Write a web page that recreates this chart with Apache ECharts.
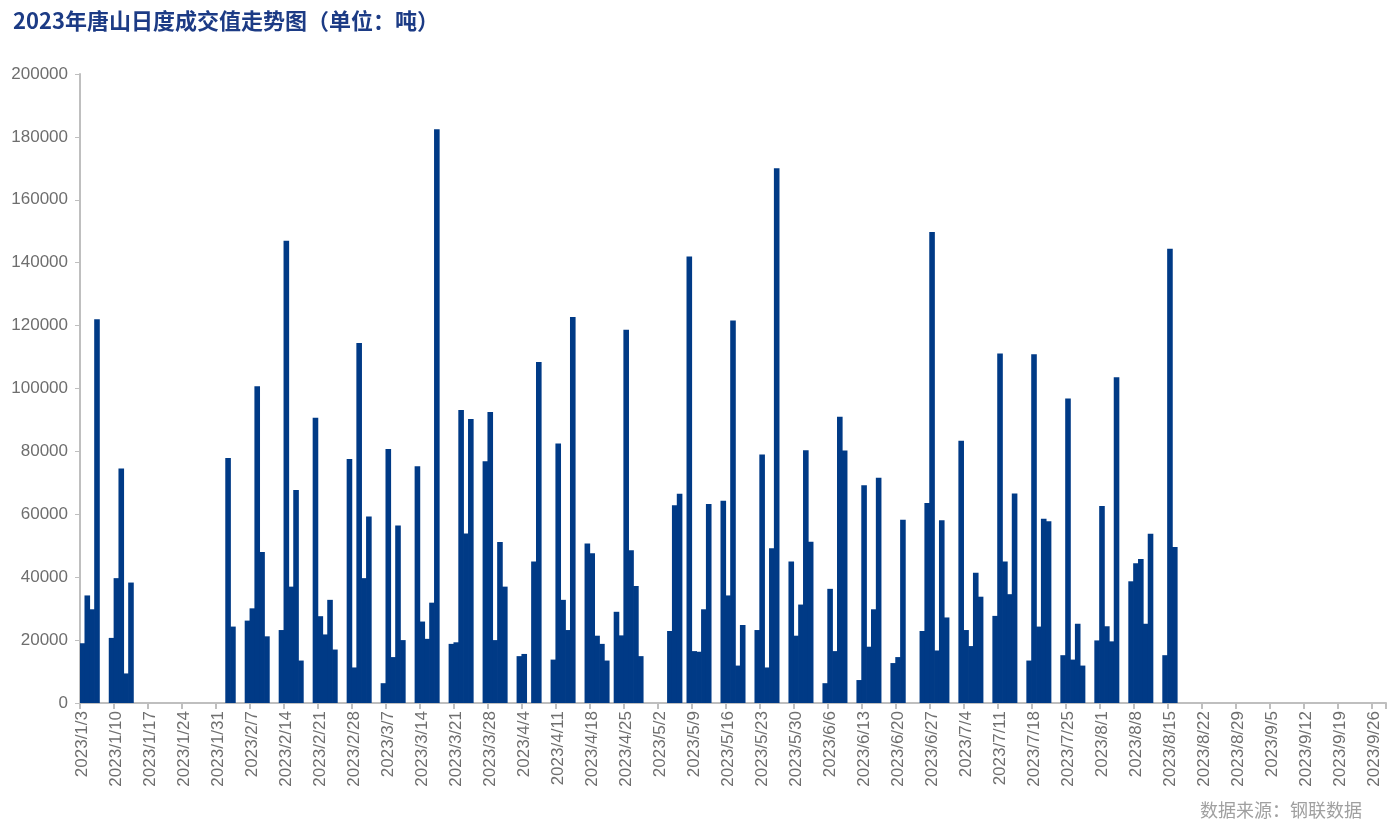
<!DOCTYPE html>
<html>
<head>
<meta charset="utf-8">
<script src="https://cdn.jsdelivr.net/npm/echarts@6/dist/echarts.min.js"></script>
<style>
html,body{margin:0;padding:0;background:#fff;}
#chart{width:1392px;height:838px;}
</style>
</head>
<body>
<div id="chart"></div>
<script>
// Trading dates with data
const tradeDates = [
  '2023/1/3','2023/1/4','2023/1/5','2023/1/6','2023/1/9','2023/1/10','2023/1/11','2023/1/12','2023/1/13',
  '2023/2/2','2023/2/3','2023/2/6','2023/2/7','2023/2/8','2023/2/9','2023/2/10',
  '2023/2/13','2023/2/14','2023/2/15','2023/2/16','2023/2/17',
  '2023/2/20','2023/2/21','2023/2/22','2023/2/23','2023/2/24',
  '2023/2/27','2023/2/28','2023/3/1','2023/3/2','2023/3/3',
  '2023/3/6','2023/3/7','2023/3/8','2023/3/9','2023/3/10',
  '2023/3/13','2023/3/14','2023/3/15','2023/3/16','2023/3/17',
  '2023/3/20','2023/3/21','2023/3/22','2023/3/23','2023/3/24',
  '2023/3/27','2023/3/28','2023/3/29','2023/3/30','2023/3/31',
  '2023/4/3','2023/4/4','2023/4/6','2023/4/7',
  '2023/4/10','2023/4/11','2023/4/12','2023/4/13','2023/4/14',
  '2023/4/17','2023/4/18','2023/4/19','2023/4/20','2023/4/21',
  '2023/4/23','2023/4/24','2023/4/25','2023/4/26','2023/4/27','2023/4/28',
  '2023/5/4','2023/5/5','2023/5/6',
  '2023/5/8','2023/5/9','2023/5/10','2023/5/11','2023/5/12',
  '2023/5/15','2023/5/16','2023/5/17','2023/5/18','2023/5/19',
  '2023/5/22','2023/5/23','2023/5/24','2023/5/25','2023/5/26',
  '2023/5/29','2023/5/30','2023/5/31','2023/6/1','2023/6/2',
  '2023/6/5','2023/6/6','2023/6/7','2023/6/8','2023/6/9',
  '2023/6/12','2023/6/13','2023/6/14','2023/6/15','2023/6/16',
  '2023/6/19','2023/6/20','2023/6/21',
  '2023/6/25','2023/6/26','2023/6/27','2023/6/28','2023/6/29','2023/6/30',
  '2023/7/3','2023/7/4','2023/7/5','2023/7/6','2023/7/7',
  '2023/7/10','2023/7/11','2023/7/12','2023/7/13','2023/7/14',
  '2023/7/17','2023/7/18','2023/7/19','2023/7/20','2023/7/21',
  '2023/7/24','2023/7/25','2023/7/26','2023/7/27','2023/7/28',
  '2023/7/31','2023/8/1','2023/8/2','2023/8/3','2023/8/4',
  '2023/8/7','2023/8/8','2023/8/9','2023/8/10','2023/8/11',
  '2023/8/14','2023/8/15','2023/8/16'
];
// Daily traded volume (tons)
const volumes = [
  19000,34200,29800,122000,20700,39700,74600,9400,38300,
  77900,24300,26200,30100,100700,48000,21200,
  23200,147000,37000,67700,13500,
  90700,27600,21800,32800,17000,
  77600,11300,114500,39700,59300,
  6300,80800,14600,56400,20000,
  75300,25900,20400,31900,182400,
  18800,19300,93200,53900,90300,
  76900,92500,20000,51200,37000,
  14900,15600,45000,108400,
  13800,82500,32800,23200,122700,
  50700,47600,21400,18800,13500,
  29000,21500,118700,48600,37200,14900,
  22900,62900,66500,
  142000,16500,16300,29800,63300,
  64300,34200,121600,11900,24800,
  23200,79000,11300,49200,170000,
  45000,21400,31300,80400,51300,
  6300,36300,16500,91000,80300,
  7300,69200,17900,29800,71600,
  12700,14600,58300,
  22900,63600,149800,16700,58100,27200,
  83400,23200,18100,41400,33800,
  27700,111100,45000,34600,66600,
  13500,110900,24300,58600,57800,
  15200,96800,13800,25200,11900,
  19900,62600,24400,19600,103600,
  38700,44400,45800,25200,53800,
  15200,144400,49600
];
// Axis range (daily categories)
const axisStart = '2023/1/3';
const axisEnd = '2023/9/28';
const yTicks = { min: 0, max: 200000, interval: 20000 };
const titleText = '2023年唐山日度成交值走势图（单位：吨）';
const sourceText = '数据来源：钢联数据';

function parse(s){ const p = s.split('/').map(Number); return Date.UTC(p[0], p[1]-1, p[2]); }
function fmt(t){ const d = new Date(t); return d.getUTCFullYear() + '/' + (d.getUTCMonth()+1) + '/' + d.getUTCDate(); }
const categories = [];
for (let t = parse(axisStart); t <= parse(axisEnd); t += 86400000) categories.push(fmt(t));
const lookup = {};
tradeDates.forEach((d, i) => { lookup[d] = volumes[i]; });
const seriesData = categories.map(c => (c in lookup ? lookup[c] : null));

const chart = echarts.init(document.getElementById('chart'));
chart.setOption({
  animation: false,
  backgroundColor: '#fff',
  title: {
    text: titleText,
    left: 8, top: 5,
    textStyle: { fontSize: 22, fontWeight: 'bold', color: '#1C3B85', fontFamily: 'Noto Sans CJK SC' }
  },
  grid: { left: 80, right: 6, top: 74, bottom: 135, containLabel: false },
  xAxis: {
    type: 'category',
    data: categories,
    boundaryGap: true,
    axisLine: { lineStyle: { color: '#BFBFBF', width: 2 } },
    axisTick: { show: true, interval: 6, alignWithLabel: false, length: 6, lineStyle: { color: '#BFBFBF', width: 2 } },
    axisLabel: { interval: 6, rotate: 90, margin: 8, color: '#6E6E6E', fontSize: 17, fontFamily: 'Liberation Sans' }
  },
  yAxis: {
    type: 'value',
    min: yTicks.min, max: yTicks.max, interval: yTicks.interval,
    splitLine: { show: false },
    axisLine: { show: true, lineStyle: { color: '#BFBFBF', width: 2 } },
    axisTick: { show: true, length: 5, lineStyle: { color: '#BFBFBF', width: 1 } },
    axisLabel: { margin: 12, color: '#6E6E6E', fontSize: 17, fontFamily: 'Liberation Sans', formatter: v => String(v) }
  },
  series: [{
    type: 'bar',
    data: seriesData,
    barWidth: 5.6,
    itemStyle: { color: '#003A86' }
  }],
  graphic: [{
    type: 'text',
    right: 30, top: 801,
    style: { text: sourceText, fontSize: 18, fill: '#A0A0A0', fontFamily: 'Noto Sans CJK SC' }
  }]
});
</script>
</body>
</html>
